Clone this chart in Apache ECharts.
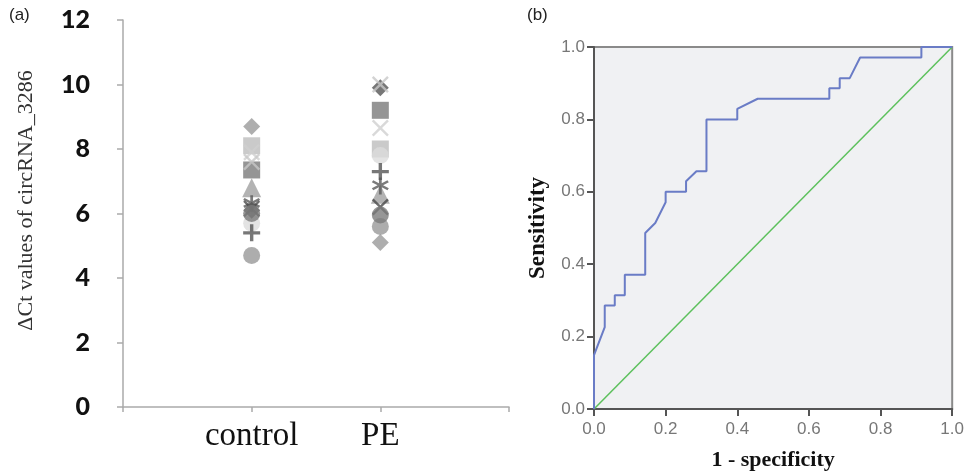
<!DOCTYPE html>
<html>
<head>
<meta charset="utf-8">
<script src="https://cdn.jsdelivr.net/npm/echarts@6/dist/echarts.min.js"></script>
<style>
  html, body { margin: 0; padding: 0; background: #fff; }
  #chart { width: 967px; height: 476px; }
</style>
</head>
<body>
<div id="chart"></div>
<script>
// panel (a): ΔCt values per group, one marker style per sample pair
const groups = ['', 'control', 'PE', ''];
const yTicks = [0, 2, 4, 6, 8, 10, 12];
const controlValues = [8.7, 8.1, 7.9, 7.35, 6.8, 6.3, 6.15, 5.7, 5.4, 4.7, 6.1, 7.6, 6.0];
const peValues = [5.1, 8.0, 8.65, 9.2, 6.6, 6.85, 6.2, 7.8, 7.3, 5.6, 9.9, 10.0, 5.95];

// panel (b): ROC curve
const rocFpr = [0, 0, 0.03, 0.03, 0.058, 0.058, 0.086, 0.086, 0.143, 0.143, 0.171, 0.2, 0.2, 0.257, 0.257,
  0.286, 0.314, 0.314, 0.4, 0.4, 0.457, 0.657, 0.657, 0.686, 0.686, 0.714, 0.743, 0.914, 0.914, 1];
const rocTpr = [0, 0.149, 0.226, 0.286, 0.286, 0.314, 0.314, 0.371, 0.371, 0.486, 0.514, 0.571, 0.6, 0.6, 0.629,
  0.657, 0.657, 0.8, 0.8, 0.829, 0.857, 0.857, 0.886, 0.886, 0.914, 0.914, 0.971, 0.971, 1, 1];
const refLine = [0, 1];

// marker looks (style only)
const X_PATH = 'path://M1,0L5,4L9,0L10,1L6,5L10,9L9,10L5,6L1,10L0,9L4,5L0,1Z';
const PLUS_PATH = 'path://M4,0H6V4H10V6H6V10H4V6H0V4H4Z';
const STAR_PATH = 'path://M4.3,0H5.7V3.3L8.6,1.6L9.3,2.8L6.4,4.5L9.3,6.2L8.6,7.4L5.7,5.7V10H4.3V5.7L1.4,7.4L0.7,6.2L3.6,4.5L0.7,2.8L1.4,1.6L4.3,3.3Z';
const markers = ['diamond', 'rect', X_PATH, 'rect', 'triangle', STAR_PATH, X_PATH, 'circle', PLUS_PATH, 'circle', 'diamond', X_PATH, 'circle'];
const markerColors = ['#9a9a9a', '#bdbdbd', '#cfcfcf', '#7a7a7a', '#a0a0a0', '#5a5a5a', '#4a4a4a', '#dcdcdc', '#555555', '#999999', '#555555', '#c8c8c8', '#7c7c7c'];

const scatterSeries = controlValues.map(function (c, i) {
  return {
    type: 'scatter',
    xAxisIndex: 0,
    yAxisIndex: 0,
    symbol: markers[i],
    symbolSize: markers[i] === 'triangle' ? 19 : 17,
    itemStyle: { color: markerColors[i] },
    data: [[1, c], [2, peValues[i]]]
  };
});

const chart = echarts.init(document.getElementById('chart'));
chart.setOption({
  animation: false,
  graphic: [
    { type: 'text', left: 9, top: 7, style: { text: '(a)', font: '17px "Liberation Sans"', fill: '#222' } },
    { type: 'text', left: 527, top: 7, style: { text: '(b)', font: '17px "Liberation Sans"', fill: '#222' } }
  ],
  grid: [
    { left: 123, top: 20, width: 386, height: 387 },
    { left: 594, top: 47, width: 363, height: 362, show: true, backgroundColor: '#f0f1f3', borderColor: '#8a8a8a', borderWidth: 2 }
  ],
  xAxis: [
    {
      gridIndex: 0,
      type: 'category',
      data: groups,
      boundaryGap: false,
      axisLine: { lineStyle: { color: '#aaaaaa', width: 1.5 } },
      axisTick: { show: true, length: 5, lineStyle: { color: '#aaaaaa', width: 1.5 } },
      axisLabel: { margin: 13, color: '#111', fontFamily: 'Liberation Serif', fontSize: 33 },
      splitLine: { show: false }
    },
    {
      gridIndex: 1,
      type: 'value',
      min: 0, max: 1, interval: 0.2,
      name: '1 - specificity',
      nameLocation: 'middle',
      nameGap: 40,
      nameTextStyle: { fontFamily: 'Liberation Serif', fontWeight: 'bold', fontSize: 22, color: '#111' },
      axisLine: { show: true, lineStyle: { color: '#555', width: 2 } },
      axisTick: { show: true, length: 7, lineStyle: { color: '#555', width: 2 } },
      axisLabel: { margin: 12, color: '#777', fontFamily: 'Liberation Sans', fontSize: 17, formatter: function (v) { return v.toFixed(1); } },
      splitLine: { show: false }
    }
  ],
  yAxis: [
    {
      gridIndex: 0,
      type: 'value',
      min: yTicks[0], max: yTicks[yTicks.length - 1], interval: 2,
      name: 'ΔCt values of circRNA_3286',
      nameLocation: 'middle',
      nameGap: 86,
      nameTextStyle: { fontFamily: 'Liberation Serif', fontSize: 22, color: '#333', padding: [0, 0, 0, 26] },
      axisLine: { show: true, lineStyle: { color: '#aaaaaa', width: 1.5 } },
      axisTick: { show: true, length: 6, lineStyle: { color: '#aaaaaa', width: 1.5 } },
      axisLabel: { margin: 33, color: '#111', fontFamily: 'Lato', fontWeight: 900, fontSize: 25 },
      splitLine: { show: false }
    },
    {
      gridIndex: 1,
      type: 'value',
      min: 0, max: 1, interval: 0.2,
      name: 'Sensitivity',
      nameLocation: 'middle',
      nameGap: 44,
      nameTextStyle: { fontFamily: 'Liberation Serif', fontWeight: 'bold', fontSize: 23, color: '#111' },
      axisLine: { show: true, lineStyle: { color: '#555', width: 2 } },
      axisTick: { show: true, length: 7, lineStyle: { color: '#555', width: 2 } },
      axisLabel: { margin: 9, color: '#777', fontFamily: 'Liberation Sans', fontSize: 17, formatter: function (v) { return v.toFixed(1); } },
      splitLine: { show: false }
    }
  ],
  series: scatterSeries.concat([
    {
      type: 'line',
      xAxisIndex: 1,
      yAxisIndex: 1,
      data: refLine.map(function (v) { return [v, v]; }),
      symbol: 'none',
      lineStyle: { color: '#5cc05c', width: 1.5 }
    },
    {
      type: 'line',
      xAxisIndex: 1,
      yAxisIndex: 1,
      data: rocFpr.map(function (x, i) { return [x, rocTpr[i]]; }),
      symbol: 'none',
      lineStyle: { color: '#6a7cc6', width: 2 }
    }
  ])
});
</script>
</body>
</html>
